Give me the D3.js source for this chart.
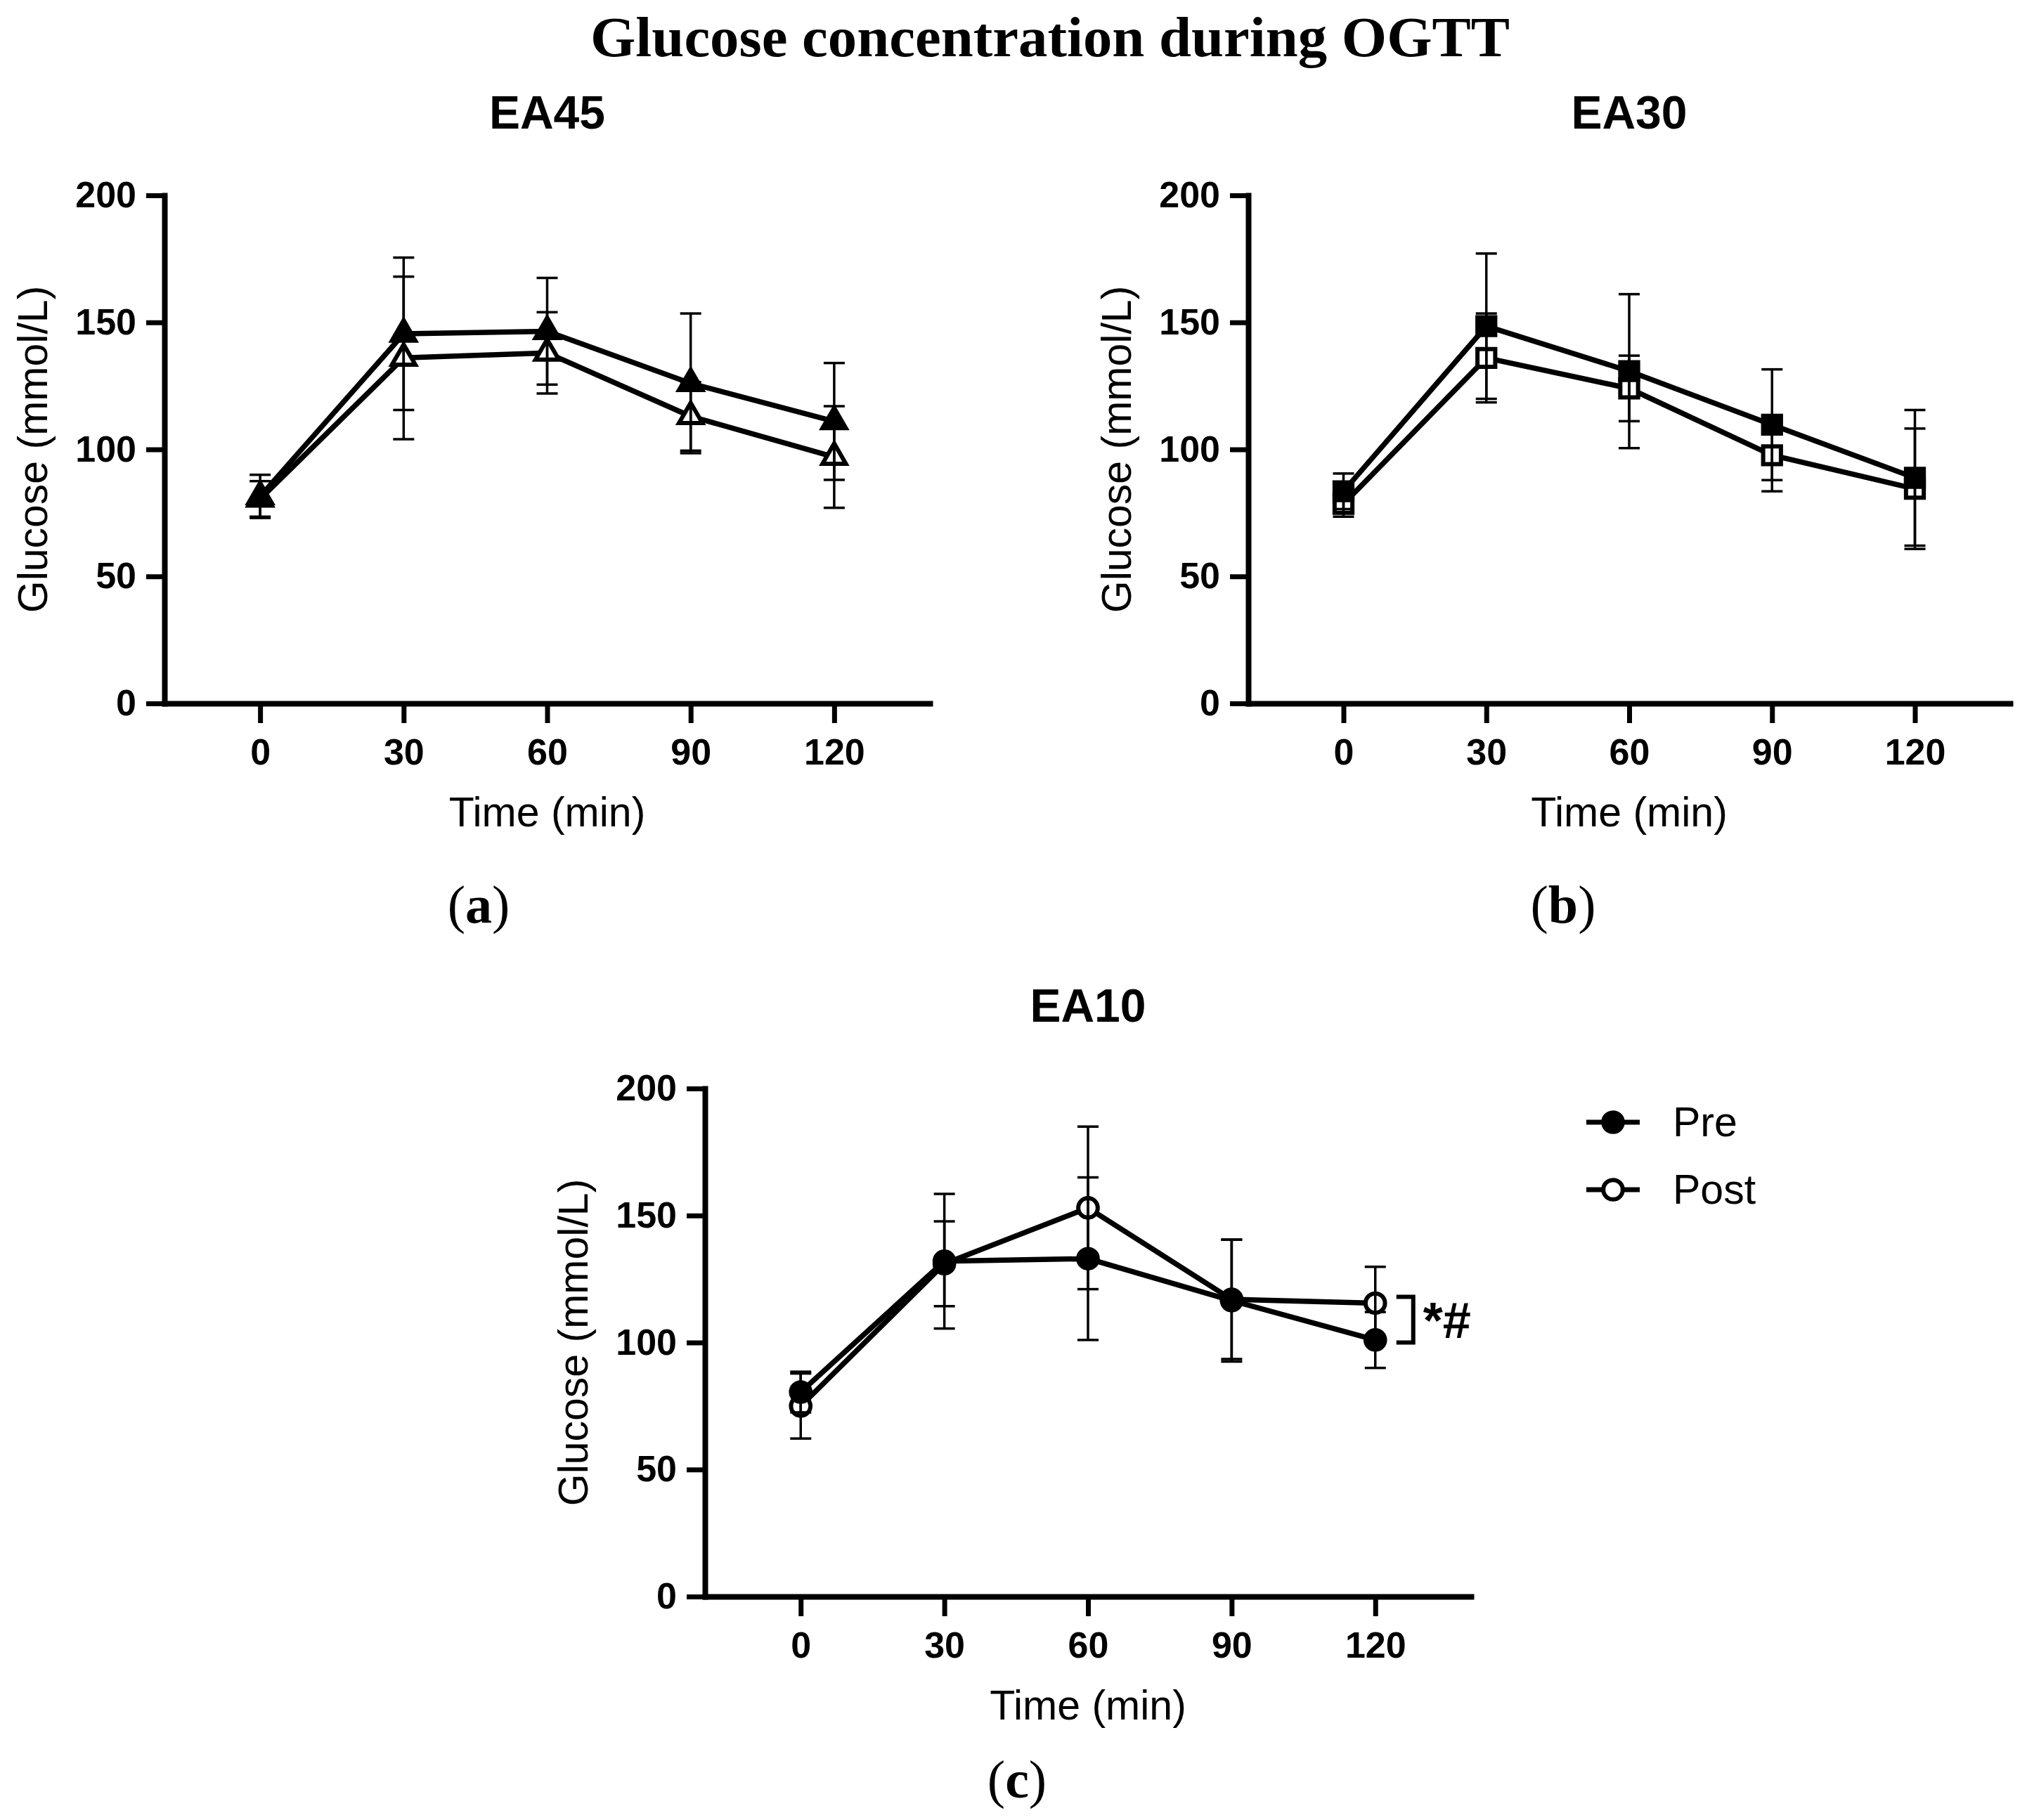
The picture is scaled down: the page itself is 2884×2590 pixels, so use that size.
<!doctype html>
<html lang="en">
<head>
<meta charset="utf-8">
<title>Glucose concentration during OGTT</title>
<script src="https://d3js.org/d3.v7.min.js"></script>
<style>
  body { margin: 0; background: #fff; }
  .sans { font-family: "Liberation Sans", Arial, sans-serif; }
  .serif { font-family: "Liberation Serif", "Times New Roman", serif; }
</style>
</head>
<body>
<svg id="fig" width="2884" height="2590"></svg>
<script>
// time points (min)
var timePoints = [0, 30, 60, 90, 120];
var yTicks = [0, 50, 100, 150, 200];

// EA45 (triangles)
var ea45Pre = [81.5, 145.5, 146.5, 126, 111];
var ea45PreSd = [8.5, 30, 21, 27.5, 23];
var ea45Post = [80.5, 136, 138, 113, 97];
var ea45PostSd = [7, 32, 16, 13.5, 20];

// EA30 (squares)
var ea30Pre = [83.5, 148.5, 130.8, 109.7, 88.8];
var ea30PreSd = [7, 28.6, 30.3, 21.8, 26.7];
var ea30Post = [78.5, 136, 124, 97.7, 84.5];
var ea30PostSd = [5, 17.5, 12.9, 14.2, 23.7];

// EA10 (circles)
var ea10Pre = [80.5, 132, 133, 116.5, 101];
var ea10PreSd = [8, 26.5, 32, 24, 11];
var ea10Post = [75, 131, 153, 117, 115.5];
var ea10PostSd = [12.8, 16.7, 32, 23.5, 14.3];

// significance bracket at 120 min in EA10
var bracketRange = [100, 118];
var bracketLabel = "*#";

var svg = d3.select("#fig");
svg.append("rect").attr("width", 2884).attr("height", 2590).attr("fill", "#fff");

svg.append("text")
  .attr("class", "serif")
  .attr("x", 1494).attr("y", 80)
  .attr("text-anchor", "middle")
  .attr("font-weight", "bold")
  .attr("font-size", 80)
  .attr("textLength", 1308)
  .attr("lengthAdjust", "spacingAndGlyphs")
  .text("Glucose concentration during OGTT");

function drawPanel(p) {
  var x = d3.scaleLinear().domain([-20, 140]).range([p.left, p.right]);
  var y = d3.scaleLinear().domain([0, 200]).range([p.bottom, p.top]);
  var g = svg.append("g");

  // axes
  var ya = g.append("g")
    .attr("transform", "translate(" + p.left + ",0)")
    .call(d3.axisLeft(y).tickValues(yTicks).tickSize(26).tickSizeOuter(0).tickPadding(14));
  var xa = g.append("g")
    .attr("transform", "translate(0," + p.bottom + ")")
    .call(d3.axisBottom(x).tickValues(timePoints).tickSize(28).tickSizeOuter(0).tickPadding(22));
  [ya, xa].forEach(function (a) {
    a.select(".domain").attr("stroke-width", 8).attr("stroke-linecap", "square");
    a.selectAll(".tick line").attr("stroke-width", 7);
    a.selectAll(".tick text")
      .attr("class", "sans")
      .attr("font-size", 52)
      .attr("font-weight", "bold")
      .attr("fill", "#000");
  });

  // titles
  g.append("text").attr("class", "sans")
    .attr("x", (p.left + p.right) / 2).attr("y", p.top - 95)
    .attr("text-anchor", "middle").attr("font-weight", "bold").attr("font-size", 66)
    .text(p.title);
  g.append("text").attr("class", "sans")
    .attr("x", (p.left + p.right) / 2).attr("y", p.bottom + 175)
    .attr("text-anchor", "middle").attr("font-size", 59)
    .text("Time (min)");
  g.append("text").attr("class", "sans")
    .attr("transform", "translate(" + (p.left - 167) + "," + ((p.top + p.bottom) / 2) + ") rotate(-90)")
    .attr("text-anchor", "middle").attr("font-size", 59)
    .text("Glucose (mmol/L)");
  g.append("text").attr("class", "serif")
    .attr("x", p.labelX).attr("y", p.labelY)
    .attr("text-anchor", "middle").attr("font-size", 76)
    .html("(<tspan font-weight='bold'>" + p.label + "</tspan>)");

  var line = d3.line().x(function (d, i) { return x(timePoints[i]); }).y(function (d) { return y(d); });

  p.series.forEach(function (s) {
    g.append("path").datum(s.mean)
      .attr("d", line).attr("fill", "none")
      .attr("stroke", "#000").attr("stroke-width", 7.5).attr("stroke-linejoin", "round");
  });

  // open markers first so the filled ones sit on top
  p.series.slice().reverse().forEach(function (s) {
    var sym = d3.symbol().type(p.symbol).size(p.symSize);
    g.append("g").selectAll("path").data(s.mean).enter().append("path")
      .attr("d", sym)
      .attr("transform", function (d, i) { return "translate(" + x(timePoints[i]) + "," + y(d) + ")"; })
      .attr("fill", s.filled ? "#000" : "#fff")
      .attr("stroke", "#000").attr("stroke-width", 6);
  });

  p.series.forEach(function (s) {
    var eb = g.append("g").attr("stroke", "#000").attr("stroke-width", 3.5);
    s.mean.forEach(function (m, i) {
      var cx = x(timePoints[i]);
      eb.append("line").attr("x1", cx).attr("x2", cx).attr("y1", y(m - s.sd[i])).attr("y2", y(m + s.sd[i]));
      [m - s.sd[i], m + s.sd[i]].forEach(function (v) {
        eb.append("line").attr("x1", cx - 15).attr("x2", cx + 15).attr("y1", y(v)).attr("y2", y(v));
      });
    });
  });

  return { x: x, y: y, g: g };
}

drawPanel({
  title: "EA45", label: "a", labelX: 681, labelY: 1313,
  left: 234, right: 1323, top: 278, bottom: 1001,
  symbol: d3.symbolTriangle, symSize: 480,
  series: [
    { mean: ea45Pre, sd: ea45PreSd, filled: true },
    { mean: ea45Post, sd: ea45PostSd, filled: false }
  ]
});

drawPanel({
  title: "EA30", label: "b", labelX: 2224, labelY: 1313,
  left: 1776, right: 2860, top: 278, bottom: 1001,
  symbol: d3.symbolSquare, symSize: 640,
  series: [
    { mean: ea30Pre, sd: ea30PreSd, filled: true },
    { mean: ea30Post, sd: ea30PostSd, filled: false }
  ]
});

var pc = drawPanel({
  title: "EA10", label: "c", labelX: 1447, labelY: 2558,
  left: 1003, right: 2093, top: 1549, bottom: 2272,
  symbol: d3.symbolCircle, symSize: 600,
  series: [
    { mean: ea10Pre, sd: ea10PreSd, filled: true },
    { mean: ea10Post, sd: ea10PostSd, filled: false }
  ]
});

// bracket with significance marks
var bx = pc.x(120) + 54;
pc.g.append("path")
  .attr("d", "M" + (bx - 24) + "," + pc.y(bracketRange[1]) + "H" + bx + "V" + pc.y(bracketRange[0]) + "H" + (bx - 24))
  .attr("fill", "none").attr("stroke", "#000").attr("stroke-width", 6);
pc.g.append("text").attr("class", "sans")
  .attr("x", bx + 14).attr("y", (pc.y(bracketRange[0]) + pc.y(bracketRange[1])) / 2 + 26)
  .attr("font-weight", "bold").attr("font-size", 72)
  .text(bracketLabel);

// legend
var legendItems = ["Pre", "Post"];
var leg = svg.append("g").attr("transform", "translate(2257,1597)");
legendItems.forEach(function (name, i) {
  var row = leg.append("g").attr("transform", "translate(0," + (i * 96) + ")");
  row.append("line").attr("x1", 0).attr("x2", 76).attr("stroke", "#000").attr("stroke-width", 7);
  row.append("path").attr("d", d3.symbol().type(d3.symbolCircle).size(600))
    .attr("transform", "translate(38,0)")
    .attr("fill", i === 0 ? "#000" : "#fff").attr("stroke", "#000").attr("stroke-width", 6);
  row.append("text").attr("class", "sans")
    .attr("x", 123).attr("y", 20).attr("font-size", 59)
    .text(name);
});
</script>
</body>
</html>
